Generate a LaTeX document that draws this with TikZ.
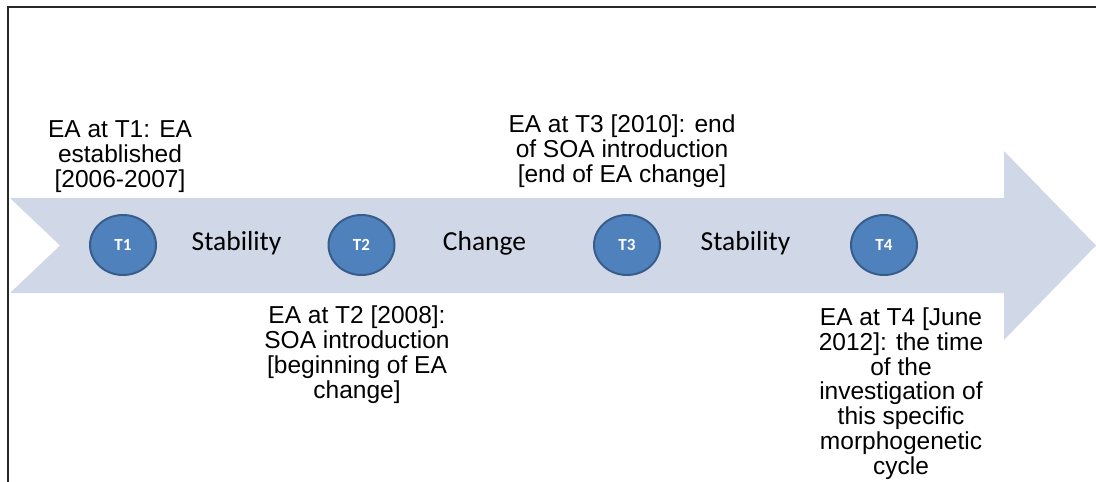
\documentclass[tikz,border=0pt]{standalone}
\usepackage{fontspec}
\setmainfont{Liberation Sans}
\newfontfamily\calfont{Carlito}
\definecolor{arrowfill}{RGB}{208,216,232}
\definecolor{circfill}{RGB}{79,129,189}
\definecolor{circline}{RGB}{56,93,138}
\definecolor{framecol}{RGB}{40,40,40}
\tikzset{
  tpoint/.style={ellipse, draw=circline, line width=2pt, fill=circfill, minimum width=66pt, minimum height=60pt, inner sep=0pt, text=white, font=\calfont\bfseries\fontsize{17}{17}\selectfont},
  phase/.style={inner sep=0pt, font=\calfont\fontsize{27.5}{28}\selectfont, text=black},
  info/.style={inner sep=0pt, align=center, anchor=base, font=\fontsize{24.5}{24.7}\selectfont, text=black}
}
\usetikzlibrary{shapes.geometric}
\begin{document}
\begin{tikzpicture}[x=1pt,y=-1pt]
\useasboundingbox (0,0) rectangle (1096,482);
\fill[white] (0,0) rectangle (1096,482);
\draw[framecol, line width=2pt] (8,482) -- (8,7) -- (1096,7);
\fill[arrowfill] (10,198) -- (1004,198) -- (1004,151) -- (1096,245.5) -- (1004,340) -- (1004,293) -- (10,293) -- (60,245.5) -- cycle;
\node[tpoint] (t1) at (123,245) {T1};
\node[tpoint] (t2) at (361.5,245) {T2};
\node[tpoint] (t3) at (627,245) {T3};
\node[tpoint] (t4) at (884,245) {T4};
\node[phase] (s1) at (236.5,243) {Stability};
\node[phase] (c1) at (484.5,243) {Change};
\node[phase] (s2) at (745.5,243) {Stability};
\node[info] (i1) at (120,187) {EA at T1: EA\\established\\{[2006-2007]}};
\node[info] (i3) at (622,182) {EA at T3 [2010]: end\\of SOA introduction\\{[end of EA change]}};
\node[info] (i2) at (357,398) {EA at T2 [2008]:\\SOA introduction\\{[beginning of EA}\\change]};
\node[info] (i4) at (901,474) {EA at T4 [June\\2012]: the time\\of the\\investigation of\\this specific\\morphogenetic\\cycle};
\end{tikzpicture}
\end{document}
